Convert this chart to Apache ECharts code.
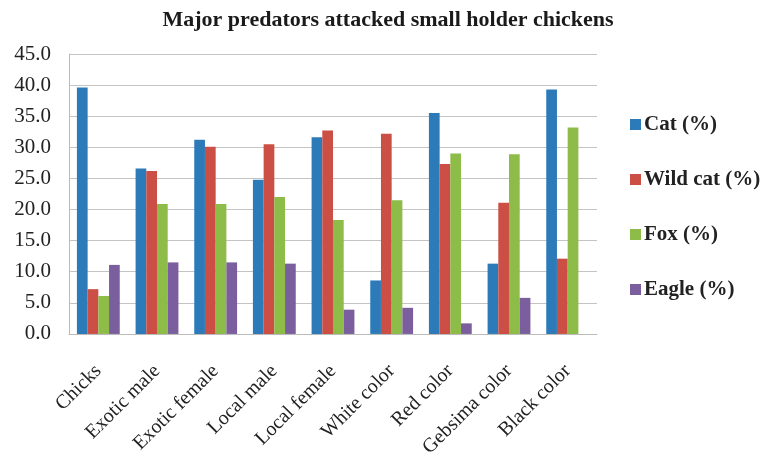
<!DOCTYPE html>
<html>
<head>
<meta charset="utf-8">
<script src="https://cdn.jsdelivr.net/npm/echarts@6/dist/echarts.min.js"></script>
<style>
  html, body { margin: 0; padding: 0; background: #fff; }
  #main { width: 767px; height: 460px; }
</style>
</head>
<body>
<div id="main"></div>
<script>
// categories and series values
var categories = ["Chicks", "Exotic male", "Exotic female", "Local male", "Local female",
  "White color", "Red color", "Gebsima color", "Black color"];
var cat = [39.6, 26.6, 31.2, 24.8, 31.6, 8.6, 35.5, 11.3, 39.3];
var wildCat = [7.2, 26.2, 30.1, 30.5, 32.7, 32.2, 27.3, 21.1, 12.1];
var fox = [6.1, 20.9, 20.9, 22.0, 18.3, 21.5, 29.0, 28.9, 33.2];
var eagle = [11.1, 11.5, 11.5, 11.3, 3.9, 4.2, 1.7, 5.8, 0];
var seriesNames = ["Cat (%)", "Wild cat (%)", "Fox (%)", "Eagle (%)"];
var colors = ["#2C7BB8", "#CB4F45", "#8DBC48", "#7A5E9E"];

var chart = echarts.init(document.getElementById("main"));

var font = "'Liberation Serif', 'DejaVu Serif', serif";

var option = {
  animation: false,
  color: colors,
  title: {
    text: "Major predators attacked small holder chickens",
    left: 383,
    textAlign: "center",
    top: 4,
    textStyle: { fontFamily: font, fontSize: 22, fontWeight: "bold", color: "#1a1a1a" }
  },
  legend: {
    orient: "vertical",
    left: 625,
    top: 109,
    itemGap: 34,
    itemWidth: 11,
    itemHeight: 11,
    icon: "rect",
    textStyle: { fontFamily: font, fontSize: 21, lineHeight: 21, fontWeight: "bold", color: "#222", padding: [0, 0, 0, -2] },
    data: seriesNames
  },
  grid: { left: 69, right: 170, top: 54, bottom: 125 },
  xAxis: {
    type: "category",
    data: categories,
    axisTick: { show: false },
    axisLine: { lineStyle: { color: "#bbb" } },
    axisLabel: {
      rotate: 45,
      interval: 0,
      margin: 34,
      fontFamily: font,
      fontSize: 20,
      color: "#222"
    }
  },
  yAxis: {
    type: "value",
    min: 0,
    max: 45,
    interval: 5,
    axisLine: { show: true, lineStyle: { color: "#bbb" } },
    axisTick: { show: false },
    splitLine: { lineStyle: { color: "#c4c4c4", width: 1.2 } },
    axisLabel: {
      fontFamily: font,
      fontSize: 21,
      color: "#222",
      margin: 18,
      formatter: function (v) { return v.toFixed(1); }
    }
  },
  series: [
    { name: seriesNames[0], type: "bar", data: cat, barGap: "0%", barCategoryGap: "27%" },
    { name: seriesNames[1], type: "bar", data: wildCat },
    { name: seriesNames[2], type: "bar", data: fox },
    { name: seriesNames[3], type: "bar", data: eagle }
  ]
};

chart.setOption(option);
</script>
</body>
</html>
